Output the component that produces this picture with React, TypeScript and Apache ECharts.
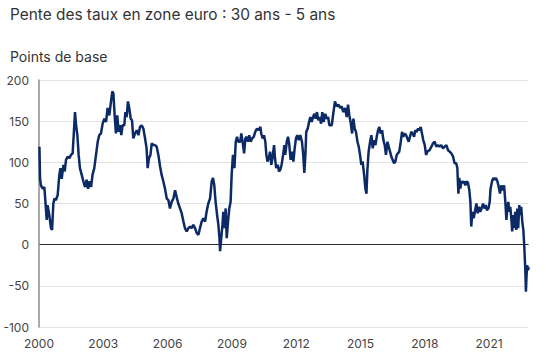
import React, { useEffect, useRef } from "react";
import * as echarts from "echarts";

// Decimal years and spread values (basis points)
const yearsA = [2000.02, 2000.05, 2000.09, 2000.17, 2000.25, 2000.30, 2000.36, 2000.40, 2000.48, 2000.56, 2000.61, 2000.67, 2000.72, 2000.79, 2000.87, 2000.95, 2001.00, 2001.06, 2001.14, 2001.20, 2001.26, 2001.34, 2001.42, 2001.49, 2001.57, 2001.62, 2001.68, 2001.73, 2001.79, 2001.85, 2001.91, 2001.99, 2002.07, 2002.15, 2002.22, 2002.29, 2002.36, 2002.43, 2002.50, 2002.58, 2002.66, 2002.74, 2002.81, 2002.89, 2002.97, 2003.05, 2003.13, 2003.20, 2003.28, 2003.36, 2003.42, 2003.47, 2003.53, 2003.59, 2003.65, 2003.72, 2003.78, 2003.84, 2003.90, 2003.98, 2004.03, 2004.09, 2004.15, 2004.21, 2004.28, 2004.34, 2004.40];
const bpA = [119, 80, 72, 68, 70, 52, 30, 48, 36, 20, 18, 50, 56, 54, 60, 85, 93, 80, 97, 89, 103, 107, 105, 109, 111, 133, 161, 145, 133, 109, 93, 85, 77, 70, 79, 68, 77, 70, 85, 93, 109, 125, 133, 135, 147, 153, 149, 166, 157, 174, 186, 184, 157, 135, 157, 137, 145, 133, 145, 145, 161, 155, 174, 166, 153, 151, 129];

const yearsB = [2004.48, 2004.56, 2004.64, 2004.71, 2004.79, 2004.87, 2004.95, 2005.02, 2005.07, 2005.13, 2005.20, 2005.26, 2005.34, 2005.41, 2005.49, 2005.57, 2005.65, 2005.72, 2005.80, 2005.88, 2005.96, 2006.04, 2006.11, 2006.19, 2006.27, 2006.35, 2006.42, 2006.50, 2006.58, 2006.66, 2006.74, 2006.81, 2006.89, 2006.97, 2007.05, 2007.12, 2007.20, 2007.28, 2007.36, 2007.44, 2007.51, 2007.59, 2007.67, 2007.75, 2007.82, 2007.90, 2007.98, 2008.06, 2008.12, 2008.18, 2008.24, 2008.31, 2008.37, 2008.42, 2008.45, 2008.49, 2008.56, 2008.60, 2008.65, 2008.71, 2008.76, 2008.82, 2008.88, 2008.94, 2008.99, 2009.05, 2009.12, 2009.18, 2009.24, 2009.30];
const bpB = [135, 139, 133, 143, 145, 141, 129, 117, 93, 105, 109, 123, 121, 121, 119, 109, 95, 85, 77, 68, 56, 54, 44, 52, 56, 66, 58, 50, 44, 38, 28, 20, 16, 20, 22, 20, 24, 20, 14, 12, 20, 28, 32, 28, 40, 50, 56, 77, 81, 72, 52, 36, 24, 8, -8, 4, 24, 40, 20, 44, 8, 28, 44, 52, 85, 109, 93, 125, 131, 125];

const yearsC = [2009.39, 2009.44, 2009.50, 2009.57, 2009.63, 2009.69, 2009.75, 2009.81, 2009.88, 2009.94, 2010.02, 2010.09, 2010.17, 2010.25, 2010.33, 2010.37, 2010.44, 2010.50, 2010.56, 2010.61, 2010.66, 2010.72, 2010.78, 2010.84, 2010.90, 2010.97, 2011.01, 2011.07, 2011.14, 2011.20, 2011.26, 2011.32, 2011.39, 2011.45, 2011.49, 2011.56, 2011.62, 2011.68, 2011.74, 2011.81, 2011.87, 2011.93, 2011.99, 2012.05, 2012.12, 2012.19, 2012.27, 2012.33, 2012.38, 2012.43, 2012.47, 2012.54, 2012.60, 2012.66, 2012.72, 2012.79, 2012.85, 2012.91, 2012.97, 2013.03, 2013.10, 2013.16, 2013.22, 2013.28, 2013.36, 2013.42, 2013.49, 2013.55];
const bpC = [125, 135, 125, 111, 129, 131, 125, 133, 125, 129, 131, 137, 141, 139, 143, 135, 129, 133, 125, 109, 101, 105, 113, 97, 107, 121, 105, 93, 97, 89, 91, 97, 109, 121, 109, 125, 131, 121, 103, 113, 101, 117, 129, 133, 127, 133, 125, 109, 87, 109, 137, 141, 149, 155, 149, 155, 159, 153, 161, 151, 155, 147, 161, 149, 159, 153, 155, 145];

const yearsD = [2013.66, 2013.74, 2013.81, 2013.89, 2013.97, 2014.05, 2014.12, 2014.20, 2014.28, 2014.36, 2014.42, 2014.48, 2014.54, 2014.61, 2014.67, 2014.73, 2014.79, 2014.86, 2014.92, 2014.98, 2015.04, 2015.10, 2015.17, 2015.23, 2015.28, 2015.32, 2015.38, 2015.45, 2015.51, 2015.57, 2015.63, 2015.70, 2015.76, 2015.82, 2015.88, 2015.94, 2016.01, 2016.07, 2016.13, 2016.19, 2016.26, 2016.32, 2016.38, 2016.44, 2016.50, 2016.57, 2016.63, 2016.69, 2016.75, 2016.81, 2016.88, 2016.94, 2017.00, 2017.06, 2017.13, 2017.19, 2017.25, 2017.31, 2017.37, 2017.44, 2017.50, 2017.56, 2017.62, 2017.69, 2017.75, 2017.81, 2017.87, 2017.93, 2018.00, 2018.06, 2018.12];
const bpD = [145, 161, 174, 168, 170, 166, 168, 161, 166, 155, 170, 157, 149, 135, 153, 141, 137, 125, 119, 109, 97, 101, 85, 68, 62, 89, 113, 125, 133, 117, 127, 121, 131, 139, 143, 135, 139, 127, 121, 109, 125, 119, 113, 107, 103, 99, 101, 109, 111, 113, 125, 137, 131, 135, 133, 129, 125, 131, 137, 135, 131, 139, 137, 141, 139, 143, 135, 127, 121, 109, 113];

const yearsE = [2018.15, 2018.23, 2018.31, 2018.38, 2018.46, 2018.54, 2018.62, 2018.69, 2018.77, 2018.85, 2018.93, 2019.01, 2019.08, 2019.16, 2019.24, 2019.32, 2019.39, 2019.47, 2019.52, 2019.57, 2019.61, 2019.66, 2019.71, 2019.77, 2019.83, 2019.89, 2019.95, 2020.02, 2020.08, 2020.13, 2020.17, 2020.22, 2020.28, 2020.34, 2020.41, 2020.47, 2020.53, 2020.59, 2020.65, 2020.72, 2020.78, 2020.84, 2020.90, 2020.97, 2021.03, 2021.07, 2021.14, 2021.20, 2021.26, 2021.32, 2021.39, 2021.45, 2021.51, 2021.57, 2021.63, 2021.70, 2021.76, 2021.81, 2021.85, 2021.90, 2021.94, 2021.99, 2022.04, 2022.08, 2022.13, 2022.18, 2022.22, 2022.27, 2022.32, 2022.36, 2022.41, 2022.46, 2022.50, 2022.55, 2022.60, 2022.64, 2022.69, 2022.72, 2022.75, 2022.78, 2022.82, 2022.85];
const bpE = [113, 115, 119, 123, 125, 119, 121, 119, 121, 117, 119, 121, 115, 113, 111, 107, 99, 99, 93, 62, 81, 68, 77, 75, 77, 72, 77, 75, 66, 52, 22, 40, 32, 40, 50, 38, 46, 40, 44, 50, 44, 48, 42, 44, 52, 68, 77, 81, 79, 81, 77, 70, 62, 72, 66, 72, 52, 30, 44, 52, 40, 46, 32, 16, 36, 20, 40, 18, 44, 20, 48, 36, 46, 28, 18, 0, -29, -57, -37, -25, -31, -27];

const yTicks = [-100, -50, 0, 50, 100, 150, 200];
const xStart = 2000;
const xEnd = 2022.85;
const xStep = 3;

const titleText = "Pente des taux en zone euro : 30 ans - 5 ans";
const unitText = "Points de base";

export default function App() {
  const ref = useRef<HTMLDivElement>(null);

  useEffect(() => {
    if (!ref.current) return;
    const chart = echarts.init(ref.current, null, { renderer: "svg" });
    const years = [...yearsA, ...yearsB, ...yearsC, ...yearsD, ...yearsE];
    const vals = [...bpA, ...bpB, ...bpC, ...bpD, ...bpE];
    const data = years.map((y, i) => [y, vals[i]]);
    const font = "Inter, 'Noto Sans', sans-serif";
    const gridColors = yTicks.map((t) => (t === 0 ? "#2b2b2b" : "#e2e2e2"));

    chart.setOption({
      animation: false,
      backgroundColor: "#ffffff",
      textStyle: { fontFamily: font },
      graphic: [
        {
          type: "text",
          left: 10,
          top: 7,
          style: { text: titleText, fontSize: 15.4, fill: "#333333", fontFamily: font },
        },
        {
          type: "text",
          left: 10,
          top: 49,
          style: { text: unitText, fontSize: 14, fill: "#333333", fontFamily: font },
        },
      ],
      grid: { left: 39, right: 21.3, top: 80, bottom: 28, containLabel: false },
      xAxis: {
        type: "value",
        min: xStart,
        max: xEnd,
        interval: xStep,
        axisLine: { show: false },
        axisTick: { show: false },
        splitLine: { show: false },
        axisLabel: {
          showMaxLabel: false,
          margin: 10,
          fontSize: 12,
          color: "#444444",
          fontFamily: font,
          formatter: (v: number) => String(Math.round(v)),
        },
      },
      yAxis: {
        type: "value",
        min: yTicks[0],
        max: yTicks[yTicks.length - 1],
        interval: 50,
        axisLine: { show: true, lineStyle: { color: "#8c8c8c", width: 1.5 } },
        axisTick: { show: false },
        axisLabel: { margin: 10, fontSize: 12, color: "#444444", fontFamily: font },
        splitLine: { show: true, lineStyle: { color: gridColors, width: 1 } },
      },
      series: [
        {
          type: "line",
          data,
          showSymbol: false,
          symbol: "none",
          lineStyle: { color: "#0b2a66", width: 2.5 },
          z: 3,
        },
      ],
    });

    return () => chart.dispose();
  }, []);

  return (
    <div
      ref={ref}
      style={{ position: "absolute", left: 0, top: 0, width: 550, height: 355 }}
    />
  );
}
